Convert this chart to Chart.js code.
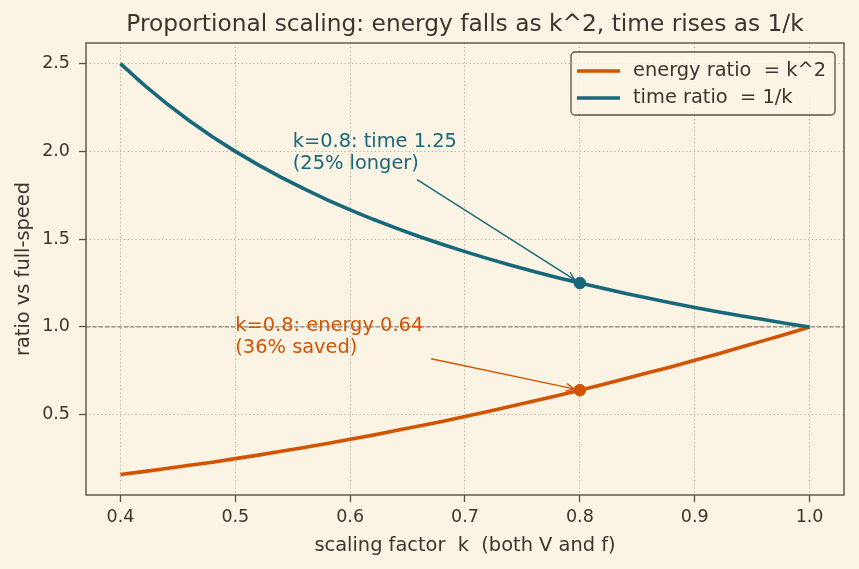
<!DOCTYPE html>
<html><head><meta charset="utf-8">
<script src="https://cdn.jsdelivr.net/npm/chart.js@4/dist/chart.umd.min.js"></script>
<style>html,body{margin:0;padding:0;background:#fbf3e4;} #wrap{width:859px;height:569px;}</style>
</head><body><div id="wrap"><canvas id="c" width="859" height="569"></canvas></div>
<script>
// ---- data ----
const kValues = [0.40,0.42,0.44,0.46,0.48,0.50,0.52,0.54,0.56,0.58,0.60,0.62,0.64,0.66,0.68,0.70,0.72,0.74,0.76,0.78,0.80,0.82,0.84,0.86,0.88,0.90,0.92,0.94,0.96,0.98,1.00];
const energyRatio = [0.160,0.176,0.194,0.212,0.230,0.250,0.270,0.292,0.314,0.336,0.360,0.384,0.410,0.436,0.462,0.490,0.518,0.548,0.578,0.608,0.640,0.672,0.706,0.740,0.774,0.810,0.846,0.884,0.922,0.960,1.000];
const timeRatio = [2.500,2.381,2.273,2.174,2.083,2.000,1.923,1.852,1.786,1.724,1.667,1.613,1.563,1.515,1.471,1.429,1.389,1.351,1.316,1.282,1.250,1.220,1.190,1.163,1.136,1.111,1.087,1.064,1.042,1.020,1.000];
const highlightK = [0.8];
const highlightEnergy = [0.64];
const highlightTime = [1.25];
const xTickValues = [0.4,0.5,0.6,0.7,0.8,0.9,1.0];
const yTickValues = [0.5,1.0,1.5,2.0,2.5];
const xLimits = [0.37, 1.03];
const yLimits = [0.043, 2.617];
const referenceLevel = 1.0;
const seriesLabels = ['energy ratio  = k^2', 'time ratio  = 1/k'];
const chartTitle = 'Proportional scaling: energy falls as k^2, time rises as 1/k';
const xAxisTitle = 'scaling factor  k  (both V and f)';
const yAxisTitle = 'ratio vs full-speed';
const annotations = [
  {lines:['k=0.8: time 1.25','(25% longer)'], at:[0.55,1.9], target:[highlightK[0], highlightTime[0]], series:1},
  {lines:['k=0.8: energy 0.64','(36% saved)'], at:[0.50,0.85], target:[highlightK[0], highlightEnergy[0]], series:0}
];

// ---- style ----
const ORANGE = '#d35400';
const TEAL = '#17687a';
const BG = '#fbf3e4';
const INK = '#3a352e';
const FRAME = '#5b5142';
const GRID = '#b3aa9a';
const FONT = "'DejaVu Sans', sans-serif";
const COLORS = [ORANGE, TEAL];

const toXY = (xs, ys) => xs.map((x, i) => ({x, y: ys[i]}));

const deco = {
  id: 'deco',
  beforeDraw(chart) {
    const c = chart.ctx;
    c.save(); c.fillStyle = BG; c.fillRect(0, 0, chart.width, chart.height); c.restore();
  },
  beforeDatasetsDraw(chart) {
    const c = chart.ctx, a = chart.chartArea, y = chart.scales.y.getPixelForValue(referenceLevel);
    c.save();
    c.strokeStyle = '#8b8377'; c.lineWidth = 1.2; c.setLineDash([4.4, 1.9]);
    c.beginPath(); c.moveTo(a.left, y); c.lineTo(a.right, y); c.stroke();
    c.restore();
  },
  afterDatasetsDraw(chart) {
    const c = chart.ctx, a = chart.chartArea, xs = chart.scales.x, ys = chart.scales.y;
    c.save();
    // frame
    c.strokeStyle = FRAME; c.lineWidth = 1.4; c.setLineDash([]);
    c.strokeRect(a.left, a.top, a.right - a.left, a.bottom - a.top);
    // annotations
    const fs = 19.4;
    c.font = fs + 'px ' + FONT;
    annotations.forEach(an => {
      const col = COLORS[an.series];
      const ax = xs.getPixelForValue(an.at[0]), ay = ys.getPixelForValue(an.at[1]);
      const lh = 22;
      c.fillStyle = col; c.textAlign = 'left'; c.textBaseline = 'alphabetic';
      const n = an.lines.length;
      let w = 0;
      an.lines.forEach((t, i) => { c.fillText(t, ax, ay - (n - 1 - i) * lh); w = Math.max(w, c.measureText(t).width); });
      const top = ay - (n - 1) * lh - 0.76 * fs, bot = ay + 0.24 * fs;
      const pad = 4;
      const cx = ax + w / 2, cy = (top + bot) / 2;
      const hw = w / 2 + pad, hh = (bot - top) / 2 + pad;
      const tx = xs.getPixelForValue(an.target[0]), ty = ys.getPixelForValue(an.target[1]);
      const dx = tx - cx, dy = ty - cy, L = Math.hypot(dx, dy), ux = dx / L, uy = dy / L;
      const t = Math.min(hw / Math.abs(dx), hh / Math.abs(dy));
      const sx = cx + dx * t + ux * 4, sy = cy + dy * t + uy * 4;
      const ex = tx - ux * 6, ey = ty - uy * 6;
      c.strokeStyle = col; c.lineWidth = 1.4;
      c.beginPath(); c.moveTo(sx, sy); c.lineTo(ex, ey); c.stroke();
      const hl = 8, hwid = 3.9;
      c.beginPath();
      c.moveTo(ex - ux * hl - uy * hwid, ey - uy * hl + ux * hwid);
      c.lineTo(ex, ey);
      c.lineTo(ex - ux * hl + uy * hwid, ey - uy * hl - ux * hwid);
      c.stroke();
    });
    // legend
    const lx = 571, ly = 52, lw = 264, lhgt = 63;
    c.beginPath();
    if (c.roundRect) c.roundRect(lx, ly, lw, lhgt, 4); else c.rect(lx, ly, lw, lhgt);
    c.fillStyle = 'rgba(251,243,228,0.85)'; c.fill();
    c.strokeStyle = FRAME; c.lineWidth = 1.3; c.stroke();
    c.font = '19.4px ' + FONT; c.textBaseline = 'middle'; c.textAlign = 'left';
    seriesLabels.forEach((lab, i) => {
      const yy = 71 + i * 27;
      c.strokeStyle = COLORS[i]; c.lineWidth = 3.6;
      c.beginPath(); c.moveTo(577, yy); c.lineTo(620, yy); c.stroke();
      c.fillStyle = INK; c.fillText(lab, 633, yy);
    });
    c.restore();
  },
  afterDraw(chart) {
    const c = chart.ctx, a = chart.chartArea;
    c.save();
    c.fillStyle = INK;
    c.textAlign = 'center'; c.textBaseline = 'alphabetic';
    c.font = '23.3px ' + FONT;
    c.fillText(chartTitle, (a.left + a.right) / 2, 31);
    c.font = '19.4px ' + FONT; c.textBaseline = 'middle';
    c.fillText(xAxisTitle, (a.left + a.right) / 2, 546);
    c.translate(24, (a.top + a.bottom) / 2); c.rotate(-Math.PI / 2);
    c.fillText(yAxisTitle, 0, 0);
    c.restore();
  }
};

const gridOpts = {color: GRID, lineWidth: 1, tickColor: FRAME, tickLength: 7, tickWidth: 1.3, tickBorderDash: [], drawTicks: true};
const borderOpts = {display: false, dash: [1.2, 2.6]};

new Chart(document.getElementById('c'), {
  type: 'line',
  data: {
    datasets: [
      {label: seriesLabels[0], data: toXY(kValues, energyRatio), borderColor: ORANGE, borderWidth: 3.6, pointRadius: 0, fill: false, order: 3},
      {label: seriesLabels[1], data: toXY(kValues, timeRatio), borderColor: TEAL, borderWidth: 3.6, pointRadius: 0, fill: false, order: 2},
      {label: 'e-pt', data: toXY(highlightK, highlightEnergy), showLine: false, pointRadius: 5.8, pointBackgroundColor: ORANGE, pointBorderColor: ORANGE, order: 1},
      {label: 't-pt', data: toXY(highlightK, highlightTime), showLine: false, pointRadius: 5.8, pointBackgroundColor: TEAL, pointBorderColor: TEAL, order: 0}
    ]
  },
  options: {
    responsive: false, animation: false, devicePixelRatio: 1,
    layout: {padding: {top: 43, right: 15, left: 0, bottom: 0}},
    plugins: {legend: {display: false}, title: {display: false}, tooltip: {enabled: false}},
    scales: {
      x: {
        type: 'linear', min: xLimits[0], max: xLimits[1],
        afterBuildTicks: s => { s.ticks = xTickValues.map(v => ({value: v})); },
        afterFit: s => { s.height = 74; },
        ticks: {callback: v => v.toFixed(1), color: INK, font: {family: FONT, size: 17.5}, padding: 5, maxRotation: 0},
        grid: gridOpts, border: borderOpts
      },
      y: {
        type: 'linear', min: yLimits[0], max: yLimits[1],
        afterBuildTicks: s => { s.ticks = yTickValues.map(v => ({value: v})); },
        afterFit: s => { s.width = 86; },
        ticks: {callback: v => v.toFixed(1), color: INK, font: {family: FONT, size: 17.5}, padding: 9},
        grid: gridOpts, border: borderOpts
      }
    }
  },
  plugins: [deco]
});
</script></body></html>
